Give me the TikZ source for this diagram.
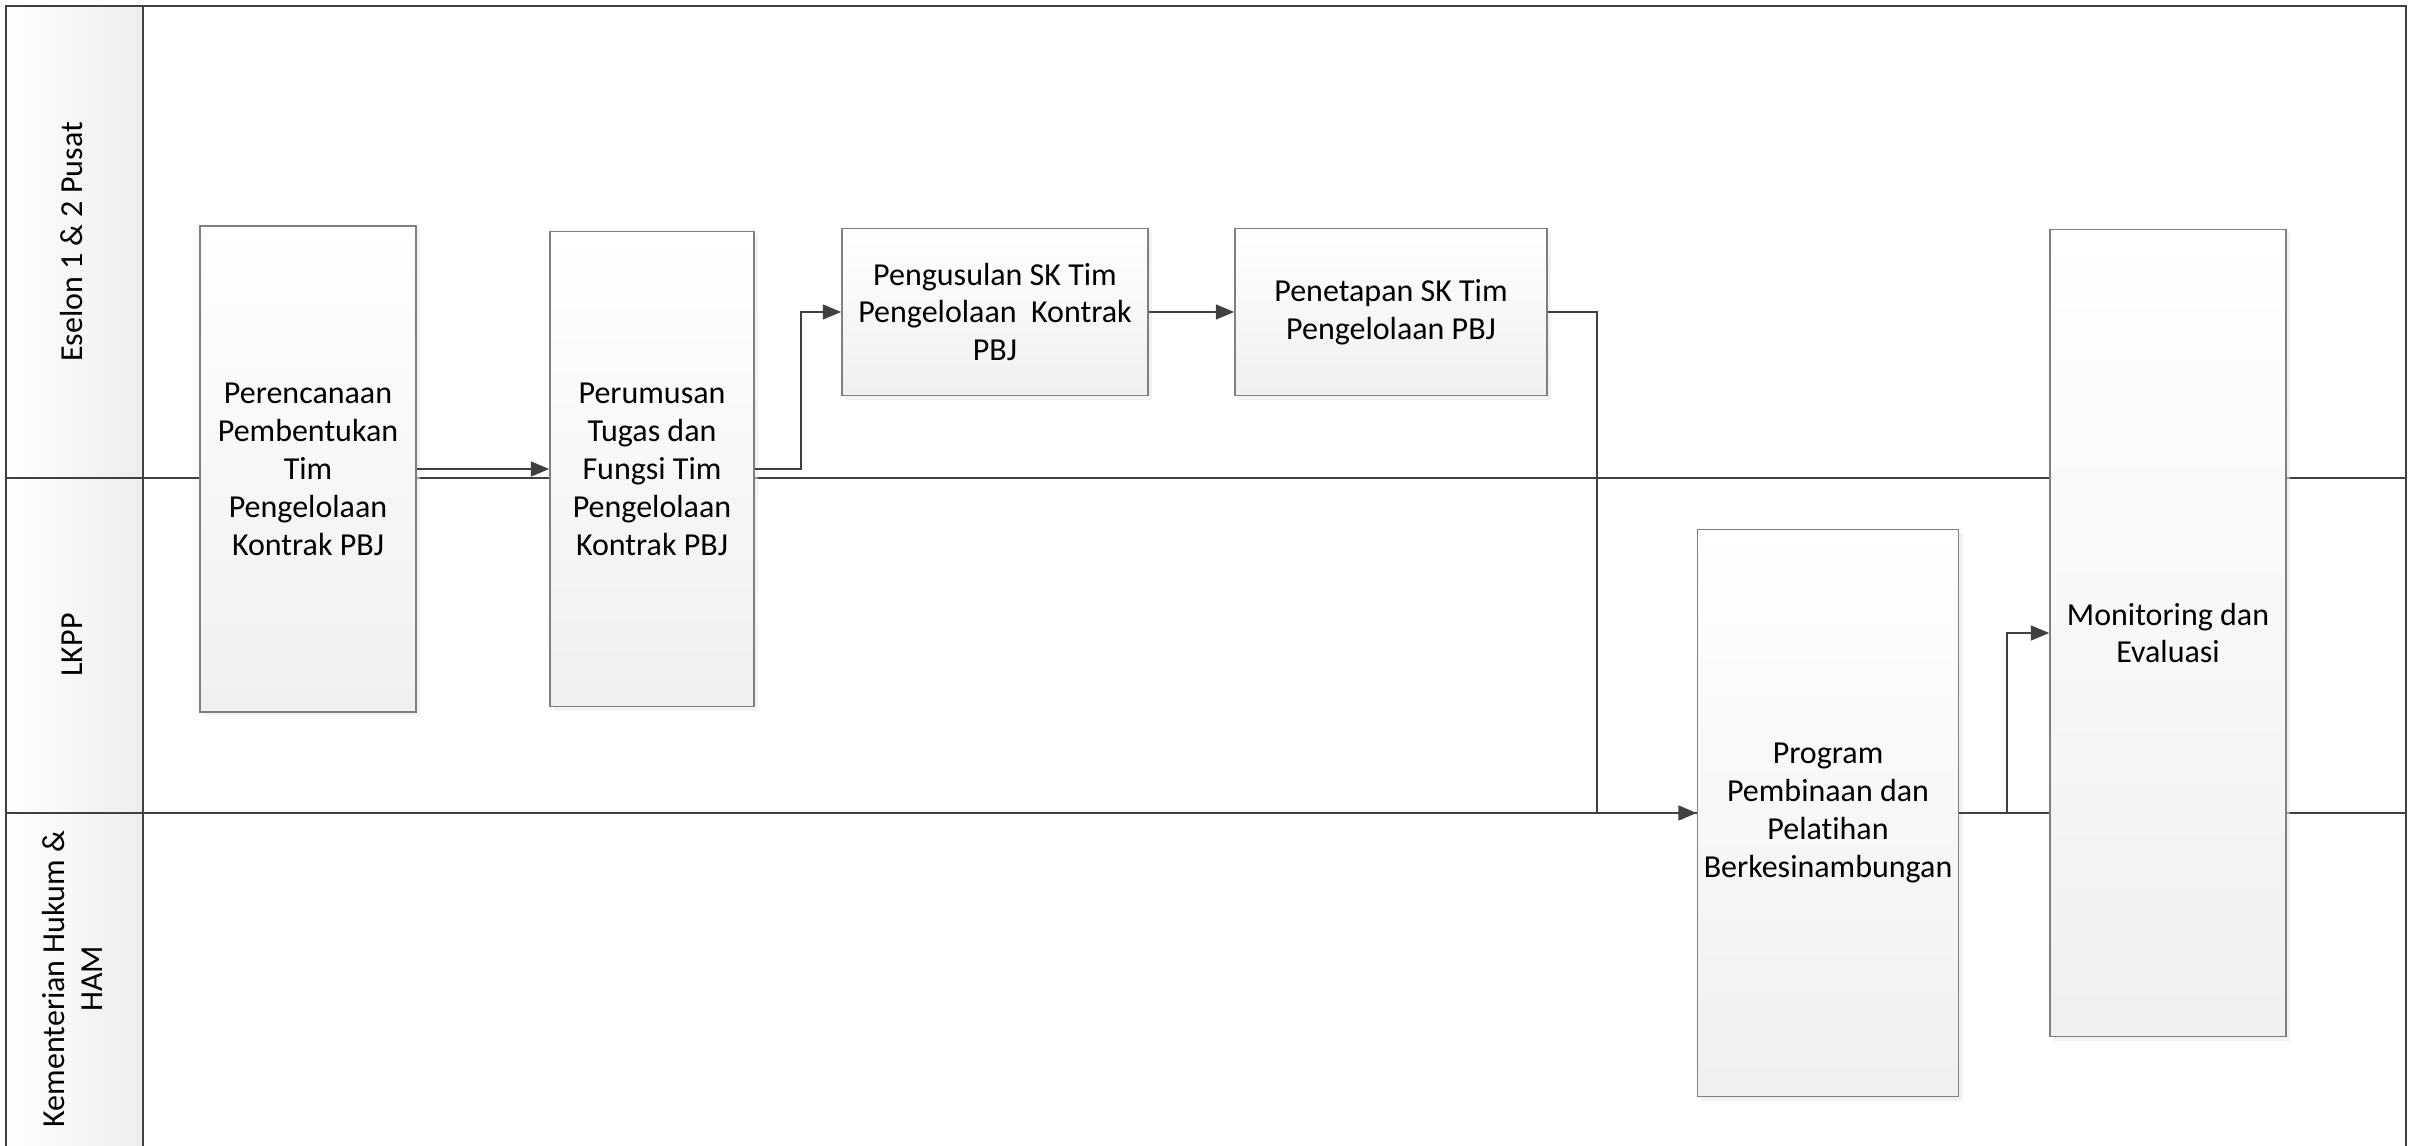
\documentclass[tikz,border=0pt]{standalone}
\usepackage{fontspec}
\setmainfont{Carlito}[Ligatures=NoCommon]
\usepackage{tikz}
\usetikzlibrary{arrows.meta,shadows}

\definecolor{laneline}{HTML}{404040}
\definecolor{boxline}{HTML}{7F7F7F}

\begin{document}
\begin{tikzpicture}[x=0.01cm, y=-0.01cm,
    lane/.style={draw=laneline, line width=0.6pt},
    lanelabel/.style={rotate=90, align=center, font=\fontsize{9.1pt}{10.8pt}\selectfont},
    proc/.style={draw=boxline, line width=0.4pt, align=center, inner sep=1pt,
        top color=white, bottom color=black!6,
        drop shadow={shadow xshift=0.04cm, shadow yshift=-0.04cm, fill=black!10},
        font=\fontsize{9.1pt}{10.8pt}\selectfont},
    flow/.style={draw=laneline, line width=0.6pt, -{Triangle[length=5.2pt,width=4.2pt]}}]
    \useasboundingbox (0,0) rectangle (2409,1146);

    % swimlane header column
    \shade[left color=white, right color=black!7] (6,6) rectangle (143,1146);

    % lanes
    \draw[lane] (6,1146) -- (6,6) -- (2406,6) -- (2406,1146);
    \draw[lane] (143,6) -- (143,1146);
    \draw[lane] (6,478) -- (2406,478);
    \draw[lane] (6,813) -- (2406,813);

    \node[lanelabel] (l1) at (72,242) {Eselon 1 \& 2 Pusat};
    \node[lanelabel] (l2) at (72,645) {LKPP};
    \node[lanelabel] (l3) at (72,979) {Kementerian Hukum \&\\HAM};

    % process steps
    \node[proc, minimum width=2.16cm, minimum height=4.86cm] (rencana) at (308,469)
        {Perencanaan\\Pembentukan\\Tim\\Pengelolaan\\Kontrak PBJ};
    \node[proc, minimum width=2.04cm, minimum height=4.75cm] (rumus) at (652,469)
        {Perumusan\\Tugas dan\\Fungsi Tim\\Pengelolaan\\Kontrak PBJ};
    \node[proc, minimum width=3.06cm, minimum height=1.67cm] (usul) at (995,312)
        {Pengusulan SK Tim\\Pengelolaan~~Kontrak\\PBJ};
    \node[proc, minimum width=3.12cm, minimum height=1.67cm] (tetap) at (1391,312)
        {Penetapan SK Tim\\Pengelolaan PBJ};
    \node[proc, minimum width=2.61cm, minimum height=5.67cm] (bina) at (1828,813)
        {Program\\Pembinaan dan\\Pelatihan\\Berkesinambungan};
    \node[proc, minimum width=2.36cm, minimum height=8.07cm] (monev) at (2168,633)
        {Monitoring dan\\Evaluasi};

    % connectors
    \draw[flow] (rencana.east) -- (rumus.west);
    \draw[flow] (rumus.east) -- ++(46,0) |- (usul.west);
    \draw[flow] (usul.east) -- (tetap.west);
    \draw[flow] (tetap.east) -- ++(49,0) |- (bina.west);
    \draw[flow] (bina.east) -- ++(48,0) |- (monev.west);
\end{tikzpicture}
\end{document}
